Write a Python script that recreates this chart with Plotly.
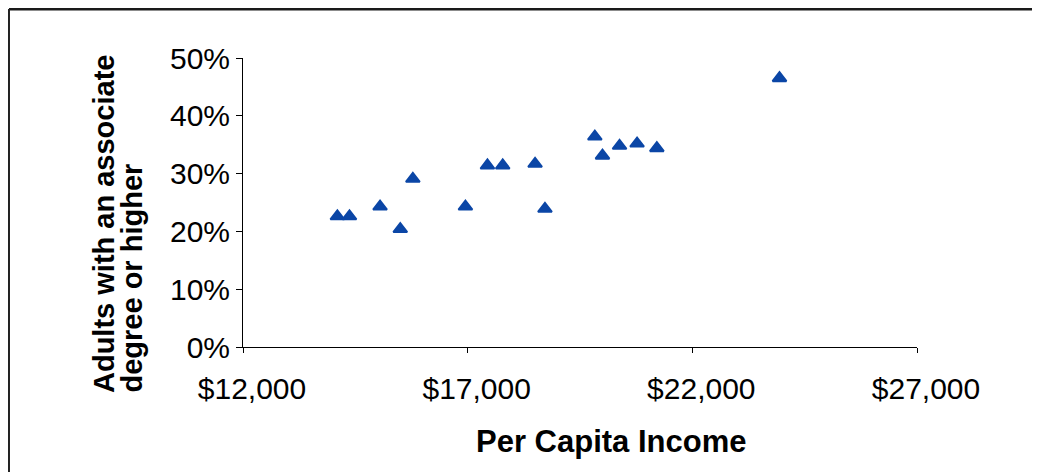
import plotly.graph_objects as go

# per capita income ($) and share of adults with an associate degree or higher
income = [14100, 14370, 15050, 15500, 15780, 16950, 17440, 17780,
          18500, 18720, 19830, 20000, 20380, 20770, 21210, 23940]
share = [0.226, 0.226, 0.243, 0.204, 0.291, 0.243, 0.314, 0.314,
         0.317, 0.239, 0.364, 0.331, 0.348, 0.352, 0.344, 0.465]

x_ticks = [12000, 17000, 22000, 27000]
y_ticks = [0, 0.1, 0.2, 0.3, 0.4, 0.5]

font = "Liberation Sans, Arial, sans-serif"

fig = go.Figure()
fig.add_trace(go.Scatter(
    x=income, y=share, mode="markers",
    marker=dict(symbol="triangle-up", size=12, color="#0B46A6",
                line=dict(color="#0B46A6", width=2)),
    showlegend=False,
))

# page body adds an 8px offset, so margins are shifted by that much
fig.update_layout(
    width=1040, height=472,
    margin=dict(l=235, r=131, t=50, b=133),
    paper_bgcolor="white", plot_bgcolor="white",
    font=dict(family=font, color="black"),
)

fig.update_xaxes(
    range=[12000, 27000], tickvals=x_ticks, tickformat="$,.0f",
    showgrid=False, zeroline=False, showline=True, linecolor="black", linewidth=1,
    ticks="outside", ticklen=5, tickcolor="black",
    tickfont=dict(size=30), ticklabelshift=9, ticklabelstandoff=10,
)
fig.update_yaxes(
    range=[0, 0.5], tickvals=y_ticks, tickformat=".0%",
    showgrid=False, zeroline=False, showline=True, linecolor="black", linewidth=1,
    ticks="outside", ticklen=6, tickcolor="black",
    tickfont=dict(size=30),
)

# axis titles (y title as two separate lines, like the original)
fig.add_annotation(text="<b>Adults with an associate</b>", textangle=-90,
                   xref="paper", yref="paper", x=0, y=0, xanchor="center", yanchor="bottom",
                   xshift=-139, yshift=-48, showarrow=False, font=dict(size=29))
fig.add_annotation(text="<b>degree or higher</b>", textangle=-90,
                   xref="paper", yref="paper", x=0, y=0, xanchor="center", yanchor="bottom",
                   xshift=-112, yshift=-48, showarrow=False, font=dict(size=29))
fig.add_annotation(text="<b>Per Capita Income</b>",
                   xref="paper", yref="paper", x=0, y=0, xanchor="center", yanchor="middle",
                   xshift=368, yshift=-94, showarrow=False, font=dict(size=31))

# chart frame
fig.add_shape(type="line", xref="paper", yref="paper", x0=-0.3472, x1=1.172, y0=1.1696, y1=1.1696,
              line=dict(color="#1a1a1a", width=3))
fig.add_shape(type="line", xref="paper", yref="paper", x0=-0.3472, x1=-0.3472, y0=1.1696, y1=-0.5,
              line=dict(color="#222222", width=2))
fig.add_shape(type="line", xref="paper", yref="paper", x0=1.172, x1=1.172, y0=1.1696, y1=-0.5,
              line=dict(color="#d0d0d0", width=1))

fig.write_html("out.html")
